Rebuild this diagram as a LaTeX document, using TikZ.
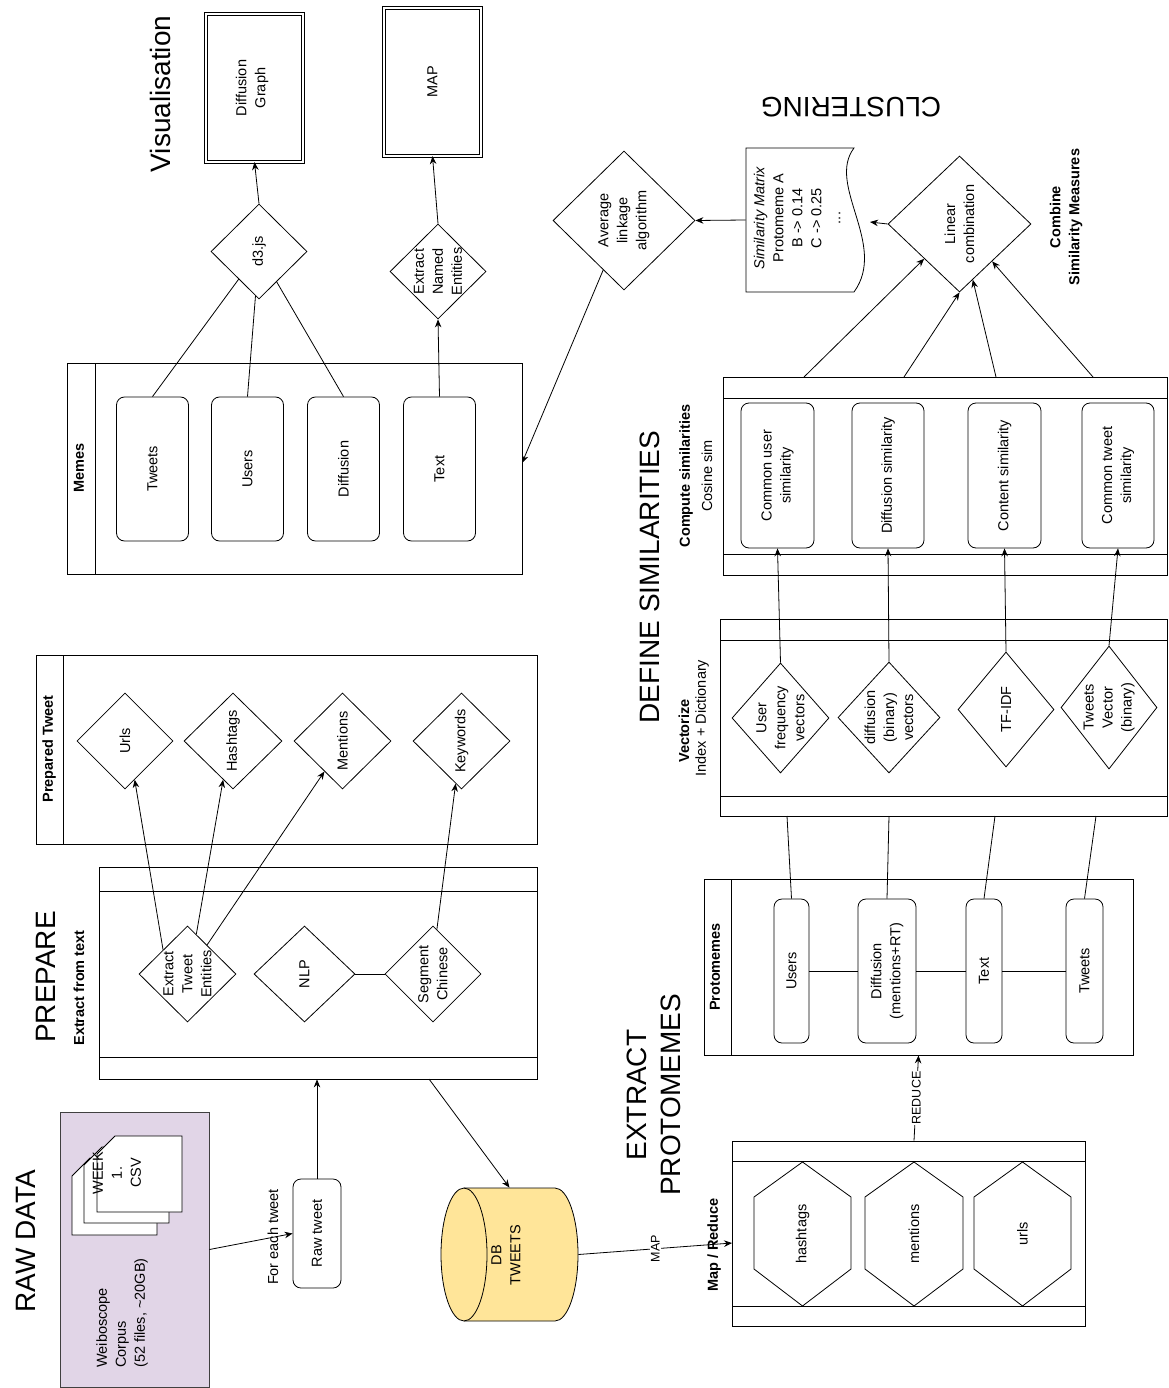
\documentclass[tikz,border=0pt]{standalone}
\usepackage{fontspec}
\setmainfont{Liberation Sans}
\usetikzlibrary{shapes.geometric,arrows.meta,calc}
\newcommand\nfs{\fontsize{14.5}{19}\selectfont}
\newcommand\bigfs{\fontsize{28}{34}\selectfont}
\newcommand\smfs{\fontsize{12.5}{14}\selectfont}
\definecolor{lav}{HTML}{E1D5E7}
\definecolor{dbc}{HTML}{FFE599}
\begin{document}
\begin{tikzpicture}[x=1pt,y=-1pt, line width=0.8pt,
  txt/.style={rotate=90,align=center,inner sep=0pt,font=\nfs},
  btxt/.style={rotate=90,align=center,inner sep=0pt,font=\nfs\bfseries},
  ttl/.style={rotate=90,align=center,inner sep=0pt,font=\bigfs},
  lab/.style={rotate=90,fill=white,inner sep=1pt,font=\smfs},
  cont/.style={draw,rectangle,inner sep=0pt},
  rbox/.style={draw,rectangle,rounded corners=8pt,inner sep=0pt},
  dia/.style={draw,diamond,inner sep=0pt},
  ghost/.style={rectangle,inner sep=0pt},
  arr/.style={-{Stealth[length=8pt,width=6.5pt]}},
  dbl/.style={draw,rectangle,double,double distance=2.2pt,inner sep=0pt}
]
\useasboundingbox (0,0) rectangle (1168,1388);

% ---------- titles
\node[ttl] (tvis) at (160,94) {Visualisation};
\node[inner sep=0pt,font=\bigfs,rotate=180] (tclu) at (851,107) {CLUSTERING};
\node[ttl] (traw) at (26,1241) {RAW DATA};
\node[ttl] (tprep) at (46,977) {PREPARE};
\node[ttl] (textr) at (654,1095) {EXTRACT\\PROTOMEMES};
\node[ttl] (tdef) at (650,577) {DEFINE SIMILARITIES};

% ---------- visualisation outputs
\node[dbl, minimum width=96.4pt, minimum height=147.4pt] (dg) at (254.5,88) {};
\node[txt] at (252,88) {Diffusion\\Graph};
\node[dbl, minimum width=96.4pt, minimum height=147.4pt] (mapb) at (432.5,82) {};
\node[txt] at (mapb) {MAP};

\node[dia, minimum width=96pt, minimum height=95pt] (d3) at (259,251.5) {};
\node[txt] at (d3) {d3.js};
\node[dia, minimum width=96pt, minimum height=95pt] (ene) at (438,271.5) {};
\node[txt] at (ene) {Extract\\Named\\Entities};

% ---------- memes
\node[cont, minimum width=455pt, minimum height=211pt] (memes) at (294.5,468.5) {};
\draw (95,363) -- (95,574);
\node[btxt] at (79,468) {Memes};
\node[rbox, minimum width=72pt, minimum height=144pt] (tw) at (152.5,469) {};
\node[txt] at (tw) {Tweets};
\node[rbox, minimum width=72pt, minimum height=144pt] (us) at (247.5,469) {};
\node[txt] at (us) {Users};
\node[rbox, minimum width=72pt, minimum height=144pt] (df) at (343.5,469) {};
\node[txt] at (df) {Diffusion};
\node[rbox, minimum width=72pt, minimum height=144pt] (tx) at (439.5,469) {};
\node[txt] at (tx) {Text};

\draw[arr] (d3.north) -- (dg.south);
\draw[arr] (ene.north) -- (mapb.south);
\draw (tw.north) -- (d3);
\draw (us.north) -- (d3);
\draw (df.north) -- (d3);
\draw[arr] (tx.north) -- (ene.south);

% ---------- clustering
\node[dia, minimum width=142pt, minimum height=139pt] (avg) at (624,220.5) {};
\node[txt] at (avg) {Average\\linkage\\algorithm};
\draw (746,148) -- (854,148) .. controls (826,185) and (888,245) .. (854,292) -- (746,292) -- cycle;
\node[ghost, minimum width=108pt, minimum height=144pt] (sim) at (800,220) {};
\node[txt] at (797,218) {\textit{Similarity Matrix}\\Protomeme A\\B -> 0.14\\C -> 0.25\\...};
\node[dia, minimum width=143pt, minimum height=136pt] (lc) at (959.5,224) {};
\node[txt] at (lc) {Linear\\combination};
\node[btxt] at (1066,217) {Combine\\Similarity Measures};
\coordinate (simR) at (870,222);
\coordinate (memesR) at (522,463);
\draw[arr] (sim.west) -- (avg.east);
\draw[arr] (lc.west) -- (simR);
\draw[arr] (avg) -- (memesR);

% ---------- compute similarities
\node[cont, minimum width=444pt, minimum height=198pt] (cmp) at (945,476) {};
\draw (723,398) -- (1167,398);
\draw (723,554) -- (1167,554);
\node[btxt] at (686,476) {Compute similarities};
\node[txt] at (707,476) {Cosine sim};
\node[rbox, minimum width=73pt, minimum height=145pt] (cu) at (777.5,475.5) {};
\node[txt] at (cu) {Common user\\similarity};
\node[rbox, minimum width=72pt, minimum height=145pt] (ds) at (888,475.5) {};
\node[txt] at (ds) {Diffusion similarity};
\node[rbox, minimum width=73pt, minimum height=145pt] (cs) at (1004.5,475.5) {};
\node[txt] at (cs) {Content similarity};
\node[rbox, minimum width=72pt, minimum height=145pt] (ct) at (1118,475.5) {};
\node[txt] at (ct) {Common tweet\\similarity};
\coordinate (c1) at (804,377);
\coordinate (c2) at (904,377);
\coordinate (c3) at (996,377);
\coordinate (c4) at (1093,377);
\draw[arr] (c1) -- (lc);
\draw[arr] (c2) -- (lc.south);
\draw[arr] (c3) -- (lc);
\draw[arr] (c4) -- (lc);

% ---------- vectorize
\node[cont, minimum width=447pt, minimum height=197pt] (vec) at (943.5,717.5) {};
\draw (720,640) -- (1167,640);
\draw (720,796) -- (1167,796);
\node[btxt] at (684,731) {Vectorize};
\node[txt] at (702,718) {Index + Dictionary};
\node[dia, minimum width=97pt, minimum height=110pt] (uf) at (780.5,718) {};
\node[txt] at (uf) {User\\frequency\\vectors};
\node[dia, minimum width=102pt, minimum height=111pt] (dbv) at (889,717.5) {};
\node[txt] at (dbv) {diffusion\\(binary)\\vectors};
\node[dia, minimum width=96pt, minimum height=115pt] (tfidf) at (1006,709.5) {};
\node[txt] at (tfidf) {TF-IDF};
\node[dia, minimum width=96pt, minimum height=123pt] (tv) at (1109,707.5) {};
\node[txt] at (tv) {Tweets\\Vector\\(binary)};
\draw[arr] (uf.north) -- (cu.south);
\draw[arr] (dbv.north) -- (ds.south);
\draw[arr] (tfidf.north) -- (cs.south);
\draw[arr] (tv.north) -- (ct.south);

% ---------- protomemes
\node[cont, minimum width=429pt, minimum height=176pt] (pm) at (918.5,967) {};
\draw (731,879) -- (731,1055);
\node[btxt] at (715,967) {Protomemes};
\node[rbox, minimum width=35pt, minimum height=144pt] (pmU) at (791.5,971) {};
\node[txt] at (pmU) {Users};
\node[rbox, minimum width=58pt, minimum height=144pt] (pmD) at (887,971) {};
\node[txt] at (pmD) {Diffusion\\(mentions+RT)};
\node[rbox, minimum width=36pt, minimum height=144pt] (pmX) at (984,971) {};
\node[txt] at (pmX) {Text};
\node[rbox, minimum width=37pt, minimum height=144pt] (pmT) at (1084.5,971) {};
\node[txt] at (pmT) {Tweets};
\draw (pmU.east) -- (pmD.west);
\draw (pmD.east) -- (pmX.west);
\draw (pmX.east) -- (pmT.west);
\coordinate (v1) at (787,816);
\coordinate (v2) at (889,816);
\coordinate (v3) at (995,816);
\coordinate (v4) at (1096,816);
\draw (pmU.north) -- (v1);
\draw (pmD.north) -- (v2);
\draw (pmX.north) -- (v3);
\draw (pmT.north) -- (v4);

% ---------- map / reduce
\node[cont, minimum width=353pt, minimum height=185pt] (mr) at (908.5,1233.5) {};
\draw (732,1161) -- (1085,1161);
\draw (732,1306) -- (1085,1306);
\node[btxt] at (714,1245) {Map / Reduce};
\draw (802.5,1162) -- (851,1197) -- (851,1269) -- (802.5,1306) -- (754,1269) -- (754,1197) -- cycle;
\node[txt] (hxh) at (802.5,1234) {hashtags};
\draw (914,1162) -- (963,1197) -- (963,1269) -- (914,1306) -- (865,1269) -- (865,1197) -- cycle;
\node[txt] (hxm) at (914,1234) {mentions};
\draw (1022.5,1162) -- (1071,1197) -- (1071,1269) -- (1022.5,1306) -- (974,1269) -- (974,1197) -- cycle;
\node[txt] (hxu) at (1022.5,1234) {urls};
\draw[arr] ($(mr.north)+(5.5,0)$) -- node[lab]{REDUCE} (pm.south);

% ---------- DB
\draw[fill=dbc] (464,1188) -- (555,1188) arc[start angle=90,end angle=-90,x radius=23pt,y radius=66.5pt]
  -- (464,1321) arc[start angle=270,end angle=90,x radius=23pt,y radius=66.5pt] -- cycle;
\draw (464,1188) arc[start angle=90,end angle=-90,x radius=23pt,y radius=66.5pt];
\node[ghost, minimum width=137pt, minimum height=133pt] (db) at (509.5,1254.5) {};
\node[txt] at (506,1255) {DB\\TWEETS};
\coordinate (mapin) at (732,1243);
\draw[arr] (db.east) -- node[lab]{MAP} (mapin);

% ---------- prepare
\node[cont, minimum width=438pt, minimum height=212pt] (prep) at (318,973) {};
\draw (99,891) -- (537,891);
\draw (99,1057) -- (537,1057);
\node[btxt] at (79,988) {Extract from text};
\node[dia, minimum width=97pt, minimum height=96pt] (ete) at (187.5,974) {};
\node[txt] at (ete) {Extract\\Tweet\\Entities};
\node[dia, minimum width=101pt, minimum height=96pt] (nlp) at (304.5,974) {};
\node[txt] at (nlp) {NLP};
\node[dia, minimum width=96pt, minimum height=96pt] (seg) at (433,974) {};
\node[txt] at (seg) {Segment\\Chinese};
\draw (nlp.east) -- (seg.west);
\coordinate (prepB) at (429,1079);
\draw[arr] (prepB) -- (db.north);

% ---------- prepared tweet
\node[cont, minimum width=501pt, minimum height=189pt] (prd) at (286.5,749.5) {};
\draw (63,655) -- (63,844);
\node[btxt] at (49,749) {Prepared Tweet};
\node[dia, minimum width=96pt, minimum height=96pt] (urls) at (125,741) {};
\node[txt] at (urls) {Urls};
\node[dia, minimum width=98pt, minimum height=96pt] (hsh) at (233,741) {};
\node[txt] at (hsh) {Hashtags};
\node[dia, minimum width=97pt, minimum height=96pt] (men) at (342.5,741) {};
\node[txt] at (men) {Mentions};
\node[dia, minimum width=97pt, minimum height=96pt] (kw) at (461.5,741) {};
\node[txt] at (kw) {Keywords};
\draw[arr] ($(ete.west)!0.5!(ete.north)$) -- ($(urls.south)!0.2!(urls.east)$);
\draw[arr] ($(ete.north)!0.18!(ete.east)$) -- ($(hsh.south)!0.2!(hsh.west)$);
\draw[arr] ($(ete.north)!0.4!(ete.east)$) -- ($(men.south)!0.37!(men.west)$);
\draw[arr] ($(seg.north)!0.08!(seg.east)$) -- ($(kw.south)!0.12!(kw.west)$);

% ---------- raw data
\node[cont, draw=black!75, fill=lav, minimum width=149pt, minimum height=275pt] (wb) at (134.5,1249.5) {};
\draw[fill=white] (72,1176) -- (90,1158) -- (157,1158) -- (157,1235) -- (72,1235) -- cycle;
\draw[fill=white] (84,1165) -- (102,1147) -- (169,1147) -- (169,1223) -- (84,1223) -- cycle;
\draw[fill=white] (97,1154) -- (115,1136) -- (182,1136) -- (182,1212) -- (97,1212) -- cycle;
\node[txt] at (117,1173) {WEEK\\1.\\CSV};
\node[txt, align=left] at (122,1313) {Weiboscope\\Corpus\\(52 files, \textasciitilde20GB)};
\node[rbox, minimum width=48pt, minimum height=109pt] (rt) at (317,1233.5) {};
\node[txt] at (rt) {Raw tweet};
\draw[arr] (wb.east) -- (rt.west);
\node[txt] at (273,1237) {For each tweet};
\draw[arr] (rt.north) -- (rt.north |- prep.south);
\end{tikzpicture}
\end{document}
